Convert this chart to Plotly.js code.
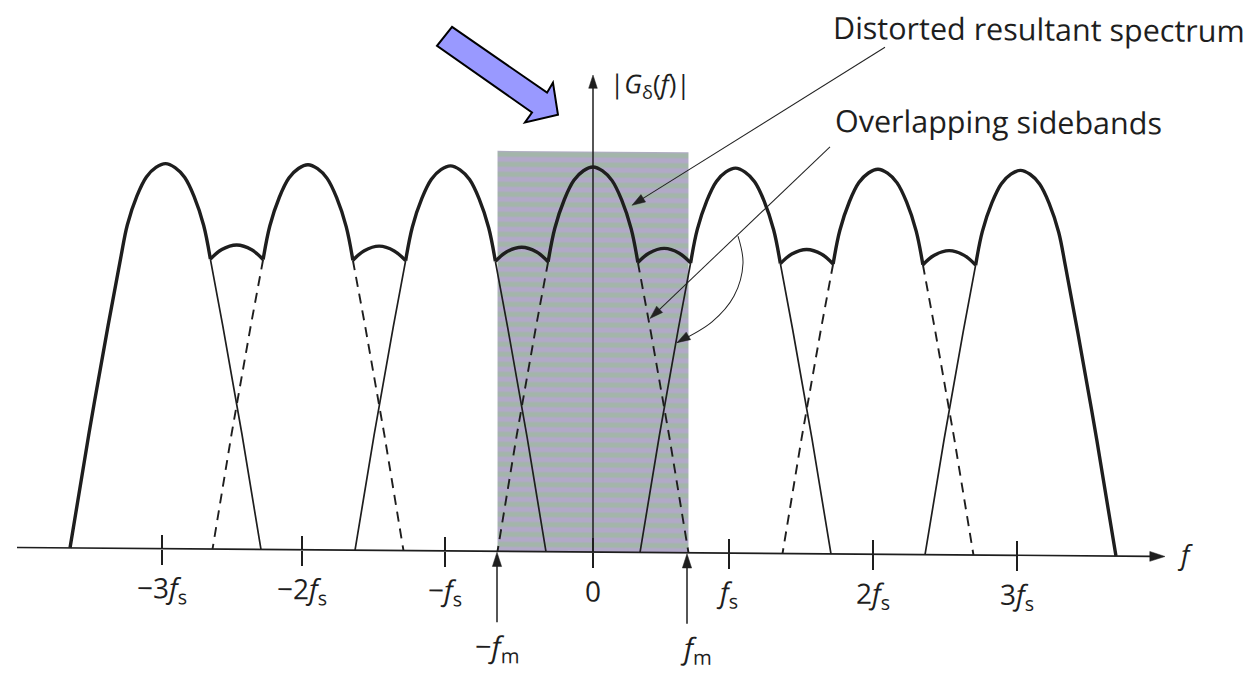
<!DOCTYPE html>
<html><head><meta charset="utf-8">
<script src="https://cdn.plot.ly/plotly-3.0.1.min.js"></script>
<style>
html,body{margin:0;padding:0;background:#fff;overflow:hidden;}
#chart{width:1255px;height:673px;transform:skewY(0.45deg);transform-origin:593px 552px;}
</style>
</head><body><div id="chart"></div>
<script>
// ---- values (frequency in units of fs, amplitude normalised so a peak = 1)
const copyCenters = [-3, -2, -1, 0, 1, 2, 3];                     // n·fs : centre of each replica
const lowerStyle  = ['solid', 'dash', 'solid', 'dash', 'solid', 'dash', 'solid']; // hidden flank style
const fm = 0.67;                                                   // message bandwidth (fs units)
const profileU = [0, 0.1, 0.2, 0.3, 0.4, 0.47];                    // upper half profile, |f-nfs|/fm
const profileH = [1, 0.99, 0.965, 0.915, 0.84, 0.753];
const lowerU = [0.47, 0.6, 0.8, 1.0];                              // lower flank: cusp -> base
const lowerH = [0.753, 0.58, 0.3, 0];
const bumpOffset = [-0.185, -0.105, 0, 0.105, 0.185];              // from midpoint between replicas
const bumpH = [0.753, 0.778, 0.79, 0.778, 0.753];                  // overlapping (summed) sidebands
const shadeTop = 1.04;                                             // top of shaded band |f|<fm
const tickVals = [-3.025, -2.042, -1.039, 0, 0.954, 1.965, 2.975];
const tickText = ['−3<i>f</i><sub>s</sub>', '−2<i>f</i><sub>s</sub>', '−<i>f</i><sub>s</sub>', '0',
                  '<i>f</i><sub>s</sub>', '2<i>f</i><sub>s</sub>', '3<i>f</i><sub>s</sub>'];

// ---- page geometry (pixels of the 1255x673 frame)
const W = 1255, H = 673, X0 = 593, FS = 142.5, Y0 = 552, HP = 385;
const px2x = p => (p - X0) / FS, py2y = p => (Y0 - p) / HP;
const FONT = 'Open Sans, Noto Sans, sans-serif', INK = '#1e1e1e';

// ---- build the curves from the arrays
const last = copyCenters.length - 1;
const envX = [], envY = [], solX = [], solY = [], dashX = [], dashY = [];
copyCenters.forEach((c, i) => {
  const xs = [], ys = [];
  if (i === 0) for (let k = lowerU.length - 1; k >= 1; k--) { xs.push(c - lowerU[k] * fm); ys.push(lowerH[k]); }
  for (let k = profileU.length - 1; k >= 1; k--) { xs.push(c - profileU[k] * fm); ys.push(profileH[k]); }
  xs.push(c); ys.push(profileH[0]);
  for (let k = 1; k < profileU.length; k++) { xs.push(c + profileU[k] * fm); ys.push(profileH[k]); }
  if (i === last) for (let k = 1; k < lowerU.length; k++) { xs.push(c + lowerU[k] * fm); ys.push(lowerH[k]); }
  envX.push(...xs, null); envY.push(...ys, null);
  if (i < last) {
    const mid = (c + copyCenters[i + 1]) / 2;
    bumpOffset.forEach((o, k) => { envX.push(mid + o); envY.push(bumpH[k]); });
    envX.push(null); envY.push(null);
  }
  const tx = lowerStyle[i] === 'solid' ? solX : dashX, ty = lowerStyle[i] === 'solid' ? solY : dashY;
  if (i > 0) { lowerU.forEach((u, k) => { tx.push(c - u * fm); ty.push(lowerH[k]); }); tx.push(null); ty.push(null); }
  if (i < last) { lowerU.forEach((u, k) => { tx.push(c + u * fm); ty.push(lowerH[k]); }); tx.push(null); ty.push(null); }
});

const traces = [
  { type: 'bar', x: [0], y: [shadeTop], width: [2 * fm], base: 0, hoverinfo: 'skip',
    marker: { color: '#b2a9c8', line: { width: 0 },
              pattern: { shape: '-', fgcolor: '#a3b5aa', bgcolor: '#b2a9c8', size: 10, solidity: 0.5 } } },
  { type: 'scatter', mode: 'lines', x: solX, y: solY, hoverinfo: 'skip',
    line: { color: INK, width: 1.7 } },
  { type: 'scatter', mode: 'lines', x: dashX, y: dashY, hoverinfo: 'skip',
    line: { color: INK, width: 1.9, dash: '10px,7px' } },
  { type: 'scatter', mode: 'lines', x: envX, y: envY, hoverinfo: 'skip', connectgaps: false,
    line: { color: INK, width: 3.4, shape: 'spline', smoothing: 1 } },
  { type: 'scatter', x: [null], y: [null], xaxis: 'x2', hoverinfo: 'skip', showlegend: false }
];

// ---- arrows (axes, fm markers, leader lines) drawn as lines ending in an arrow marker
const arrowLine = (pts, w, s, col, shape) => traces.push({
  type: 'scatter', mode: 'lines+markers', hoverinfo: 'skip',
  x: pts.map(p => px2x(p[0])), y: pts.map(p => py2y(p[1])),
  line: { color: col || INK, width: w, shape: shape || 'linear' },
  marker: { symbol: 'arrow', angleref: 'previous', color: col || INK, opacity: 1,
            size: pts.map((p, k) => k === pts.length - 1 ? s : 0), line: { width: 0.5, color: col || INK } } });
arrowLine([[17, Y0], [1165, Y0]], 1.6, 16);            // frequency axis
arrowLine([[X0, Y0], [X0, 75]], 1.5, 14);              // |G| axis
arrowLine([[497, 623], [497, Y0 + 1]], 1.5, 15);       // -fm marker
arrowLine([[687, 623], [687, Y0 + 1]], 1.5, 15);       // +fm marker
arrowLine([[885, 45], [632, 205]], 1, 14, '#222');     // leader: distorted spectrum
arrowLine([[830, 145], [650, 318]], 1, 14, '#222');    // leader: overlapping sidebands
arrowLine([[738, 235], [743, 262], [734, 295], [712, 321], [677, 342]], 1, 14, '#222', 'spline');

const xr = [px2x(0), px2x(W)], yr = [py2y(H), py2y(0)];
const axisPos = (H - Y0) / H;

const ann = [];
const txt = (t, px, py, size, xa) => ann.push({ x: px2x(px), y: py2y(py), xref: 'x', yref: 'y', text: t,
  showarrow: false, xanchor: xa || 'center', yanchor: 'middle', font: { family: FONT, size: size, color: INK } });
txt('Distorted resultant spectrum', 831, 25, 30.5, 'left');
txt('Overlapping sidebands', 833, 118, 30.5, 'left');
txt('|<i>G</i><sub>δ</sub>(<i>f</i>)|', 608, 84, 26, 'left');
txt('<i>f</i>', 1175, 549, 27, 'left');
txt('−<i>f</i><sub>m</sub>', 497, 648, 29);
txt('<i>f</i><sub>m</sub>', 696, 648, 29);

// block arrow (decoration at top)
const blockPts = [[452, 28], [547, 93], [553, 83], [558, 115], [525, 123], [532, 113], [437, 47]];
const blockPath = 'M' + blockPts.map(p => (p[0] / W).toFixed(4) + ',' + (1 - p[1] / H).toFixed(4)).join('L') + 'Z';

const layout = {
  width: W, height: H, margin: { l: 0, r: 0, t: 0, b: 0, pad: 0 },
  paper_bgcolor: '#fff', plot_bgcolor: '#fff', showlegend: false, hovermode: false, barmode: 'overlay',
  xaxis: { range: xr, anchor: 'free', position: axisPos, showgrid: false, zeroline: false, showline: false,
           ticks: 'outside', ticklen: 15, tickwidth: 1.5, tickcolor: INK, tickmode: 'array',
           tickvals: tickVals, ticktext: tickText, tickfont: { family: FONT, size: 28, color: INK } },
  xaxis2: { range: xr, overlaying: 'x', anchor: 'free', position: axisPos, showgrid: false, zeroline: false,
            showline: false, ticks: 'inside', ticklen: 14, tickwidth: 1.5, tickcolor: INK, tickmode: 'array',
            tickvals: tickVals, showticklabels: false },
  yaxis: { range: yr, visible: false, showgrid: false, zeroline: false },
  annotations: ann,
  shapes: [
    { type: 'path', xref: 'paper', yref: 'paper', layer: 'above', path: blockPath,
      fillcolor: '#9999ff', line: { color: '#000', width: 2 } }
  ]
};
Plotly.newPlot('chart', traces, layout, { displayModeBar: false, staticPlot: true });
</script></body></html>
